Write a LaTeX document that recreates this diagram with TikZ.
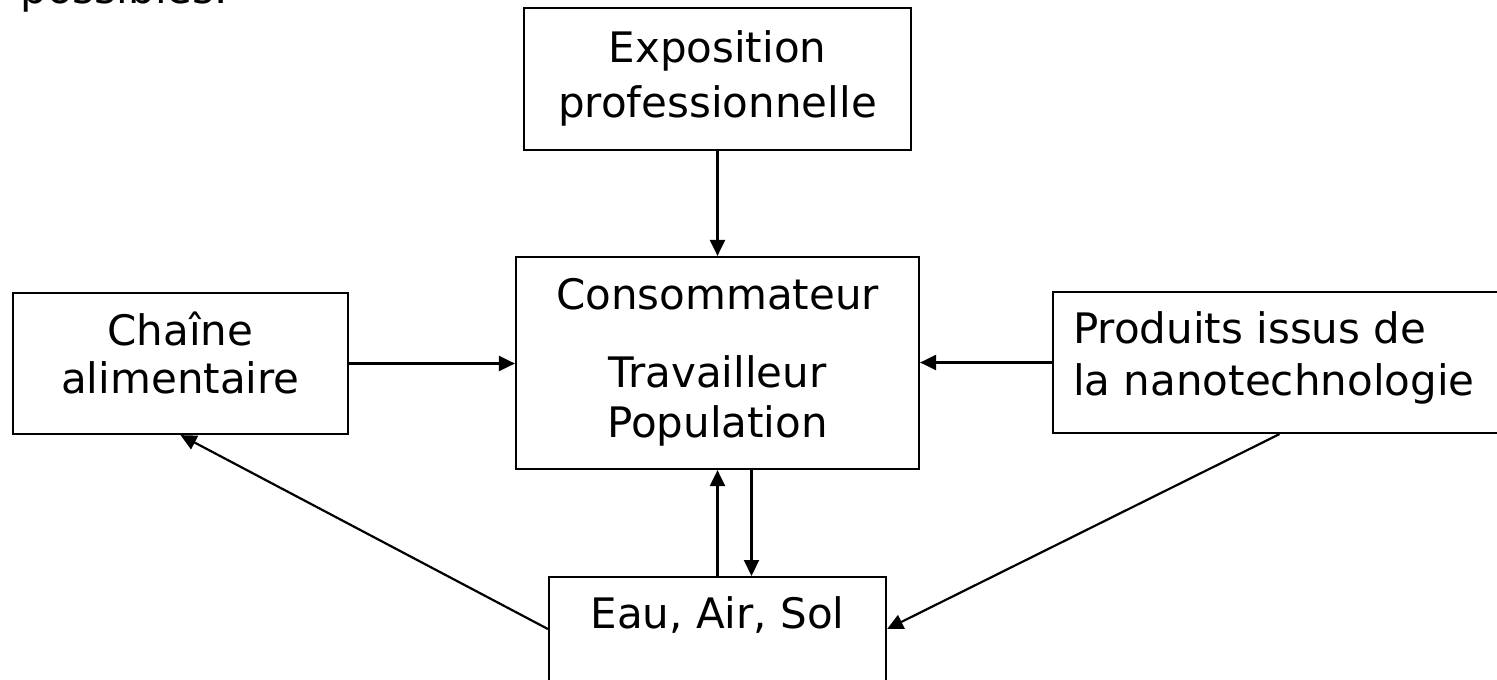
\documentclass[tikz,border=0pt]{standalone}
\usepackage{fontspec}
\setmainfont{DejaVu Sans}
\usetikzlibrary{arrows.meta}
\begin{document}
\begin{tikzpicture}[x=1pt,y=-1pt,
  txt/.style={font=\fontsize{42}{53}\selectfont, inner sep=0pt},
  box/.style={draw, line width=2.2pt, inner sep=0pt},
  arr/.style={line width=2.2pt, -{Triangle[length=16pt,width=15pt]}}]
\useasboundingbox (0,0) rectangle (1497,680);
\clip (0,0) rectangle (1497,680);
% tail of the preceding line of text
\node[txt, anchor=base east] (frag) at (228,3) {possibles.};
% boxes
\node[box, minimum width=387pt, minimum height=142pt] (expo) at (717.5,79) {};
\node[box, minimum width=403pt, minimum height=212pt] (cons) at (717.5,363) {};
\node[box, minimum width=335pt, minimum height=141pt] (chaine) at (180.5,363.5) {};
\node[box, minimum width=507pt, minimum height=141pt] (prod) at (1306.5,362.5) {};
\node[box, minimum width=337pt, minimum height=150pt, anchor=north] (eau) at (717.5,576) {};
% box texts (base anchor = baseline of the last line)
\node[txt, align=center, anchor=base] (expot) at (717.5,117) {Exposition\\[2pt]professionnelle};
\node[txt, anchor=base] (const) at (717.5,309) {Consommateur};
\node[txt, align=center, anchor=base] (travt) at (717.5,437) {Travailleur\\[-3pt]Population};
\node[txt, align=center, anchor=base] (chainet) at (180.5,393) {Chaîne\\[-5pt]alimentaire};
\node[txt, align=left, anchor=base west] (prodt) at (1073,395) {Produits issus de\\[-1pt]la nanotechnologie};
\node[txt, anchor=base] (eaut) at (717.5,628) {Eau, Air, Sol};
% connectors
\draw[arr] (cons.north |- expo.south) -- (cons.north);
\draw[arr] (chaine.east) -- (chaine.east -| cons.west);
\draw[arr] (prod.west) -- (prod.west -| cons.east);
\draw[arr] (eau.north) -- (cons.south);
\draw[arr] ([xshift=34pt]cons.south) -- ([xshift=34pt]cons.south |- eau.north);
\draw[arr] ([yshift=-53pt]eau.north west) -- (chaine.south);
\draw[arr] ([xshift=-27pt]prod.south) -- ([yshift=-53pt]eau.north east);
\end{tikzpicture}
\end{document}
